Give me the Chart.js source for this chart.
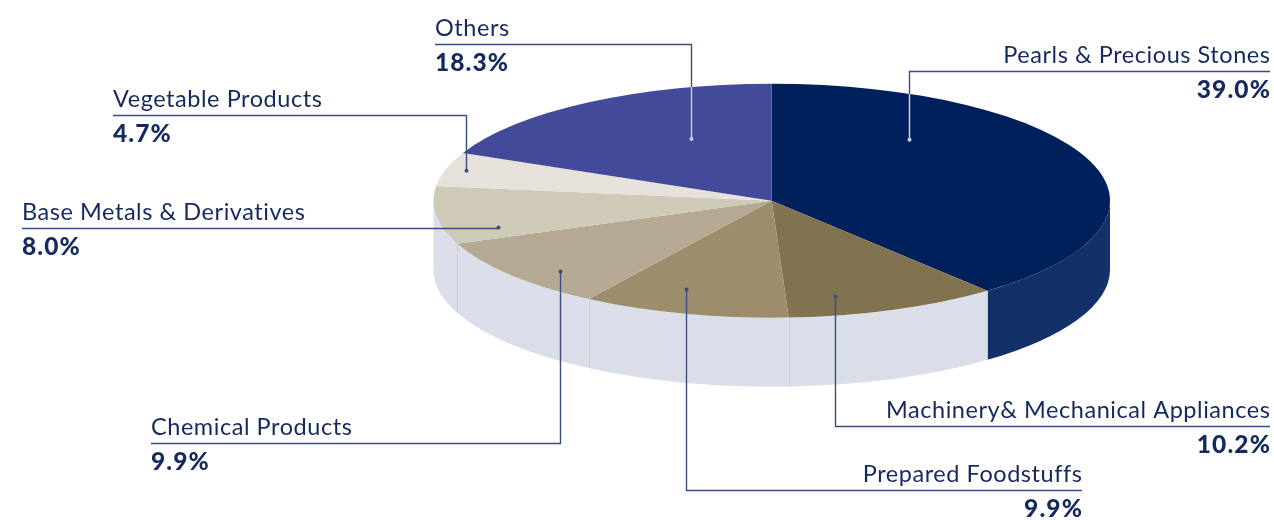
<!DOCTYPE html>
<html>
<head>
<meta charset="utf-8">
<script src="https://cdn.jsdelivr.net/npm/chart.js@4/dist/chart.umd.min.js"></script>
<style>
  html, body { margin: 0; padding: 0; background: #ffffff; }
  canvas { display: block; }
</style>
</head>
<body>
<canvas id="exports" width="1274" height="520"></canvas>
<script>
// Export structure by product group (share of total, %)
const categories = [
  'Pearls & Precious Stones',
  'Machinery& Mechanical Appliances',
  'Prepared Foodstuffs',
  'Chemical Products',
  'Base Metals & Derivatives',
  'Vegetable Products',
  'Others'
];
const shares = [39.0, 10.2, 9.9, 9.9, 8.0, 4.7, 18.3];

// Slice colours: top face and visible rim
const topColors  = ['#00205b', '#81734f', '#9c8e6d', '#b4aa93', '#cfc9b8', '#e6e1da', '#434a9a'];
const sideColors = ['#14306b', '#dadee8', '#dadee8', '#dadee8', '#dadee8', '#dadee8', '#dadee8'];

// Disc geometry (screen space): ellipse centre, radii and rim depth
const DISC = { cx: 771.7, cy: 200.7, rx: 338.3, ry: 117, depth: 69 };

// Callout layout: t = position along the slice's sweep, r = fraction of radius,
// x = outer end of the leader (text edge), lineY = height of the horizontal leader
const callouts = [
  { align: 'right', x: 1270, lineY: 71,   t: 0.27, r: 0.66 },
  { align: 'right', x: 1270, lineY: 426,  t: 0.73, r: 0.84 },
  { align: 'right', x: 1082, lineY: 490,  t: 0.60, r: 0.80 },
  { align: 'left',  x: 151,  lineY: 443,  t: 0.37, r: 0.87 },
  { align: 'left',  x: 22,   lineY: null, t: 0.20, r: 0.84 },
  { align: 'left',  x: 113,  lineY: 115,  t: 0.51, r: 0.94 },
  { align: 'left',  x: 435,  lineY: 44,   t: 0.63, r: 0.58 }
];

const FONT = 'Lato, "Open Sans", sans-serif';
const TEXT_COLOR = '#14295e';
const LINE_COLOR = '#3b4d82';
const LINE_ON_DARK = '#c7cfe2';

function isDark(hex) {
  const n = parseInt(hex.slice(1), 16);
  const r = (n >> 16) & 255, g = (n >> 8) & 255, b = n & 255;
  return (0.299 * r + 0.587 * g + 0.114 * b) < 110;
}

// Draws the rim under the pie and squashes the pie's top face into an ellipse
const disc3d = {
  id: 'disc3d',
  beforeDatasetsDraw(chart) {
    const ctx = chart.ctx;
    const arcs = chart.getDatasetMeta(0).data;
    const { cx, cy, rx, ry, depth } = DISC;

    ctx.save();
    arcs.forEach((arc, i) => {
      const a1 = Math.max(arc.startAngle, 0);
      const a2 = Math.min(arc.endAngle, Math.PI);
      if (a2 <= a1) return;
      ctx.beginPath();
      ctx.ellipse(cx, cy, rx, ry, 0, a1, a2);
      ctx.ellipse(cx, cy + depth, rx, ry, 0, a2, a1, true);
      ctx.closePath();
      ctx.fillStyle = sideColors[i];
      ctx.fill();
    });
    // seams where slices meet on the rim
    ctx.strokeStyle = '#c8ccd6';
    ctx.lineWidth = 1;
    arcs.forEach((arc) => {
      const a = arc.startAngle;
      if (a <= 0.01 || a >= Math.PI - 0.01) return;
      const x = Math.round(cx + rx * Math.cos(a)) + 0.5;
      const y = cy + ry * Math.sin(a);
      ctx.beginPath();
      ctx.moveTo(x, y);
      ctx.lineTo(x, y + depth);
      ctx.stroke();
    });
    ctx.restore();

    const a0 = arcs[0];
    ctx.save();
    ctx.translate(cx, cy);
    ctx.scale(rx / a0.outerRadius, ry / a0.outerRadius);
    ctx.translate(-a0.x, -a0.y);
  },
  afterDatasetsDraw(chart) {
    chart.ctx.restore();
  }
};

// Leader lines, names and percentages
const callout = {
  id: 'callout',
  afterDraw(chart) {
    const ctx = chart.ctx;
    const arcs = chart.getDatasetMeta(0).data;
    const { cx, cy, rx, ry } = DISC;

    arcs.forEach((arc, i) => {
      const L = callouts[i];
      const a = arc.startAngle + L.t * (arc.endAngle - arc.startAngle);
      const ax = Math.round(cx + rx * L.r * Math.cos(a)) + 0.5;
      const ay = cy + ry * L.r * Math.sin(a);
      const ly = (L.lineY == null ? Math.round(ay) : L.lineY) + 0.5;
      const dark = isDark(topColors[i]);

      ctx.save();
      ctx.lineWidth = 1.4;
      ctx.strokeStyle = LINE_COLOR;
      ctx.beginPath();
      ctx.moveTo(ax, ay);
      ctx.lineTo(ax, ly);
      ctx.lineTo(L.x, ly);
      ctx.stroke();

      if (dark) {
        // part of the leader lying on the slice itself
        const u = (ax - cx) / rx;
        const h = ry * Math.sqrt(Math.max(0, 1 - u * u));
        const edge = ly < ay ? cy - h : cy + h;
        ctx.strokeStyle = LINE_ON_DARK;
        ctx.beginPath();
        ctx.moveTo(ax, ay);
        ctx.lineTo(ax, edge);
        ctx.stroke();
      }
      ctx.fillStyle = dark ? LINE_ON_DARK : LINE_COLOR;
      ctx.beginPath();
      ctx.arc(ax, ay, 2, 0, Math.PI * 2);
      ctx.fill();

      ctx.textAlign = L.align;
      ctx.textBaseline = 'alphabetic';
      ctx.fillStyle = TEXT_COLOR;
      ctx.font = '400 23.5px ' + FONT;
      ctx.letterSpacing = '0.55px';
      const nx = L.align === 'right' ? L.x + 0.5 : L.x;
      ctx.fillText(chart.data.labels[i], nx, ly - 9);
      ctx.font = '900 24.5px ' + FONT;
      ctx.letterSpacing = '1.1px';
      const px = L.align === 'right' ? L.x + 1 : L.x;
      ctx.fillText(shares[i].toFixed(1) + '%', px, ly + 26);
      ctx.restore();
    });
  }
};

new Chart(document.getElementById('exports'), {
  type: 'pie',
  data: {
    labels: categories,
    datasets: [{
      data: shares,
      backgroundColor: topColors,
      borderWidth: 0,
      clip: false
    }]
  },
  options: {
    responsive: false,
    animation: false,
    events: [],
    rotation: 0,
    layout: { padding: 0 },
    plugins: {
      legend: { display: false },
      tooltip: { enabled: false }
    }
  },
  plugins: [disc3d, callout]
});
</script>
</body>
</html>
